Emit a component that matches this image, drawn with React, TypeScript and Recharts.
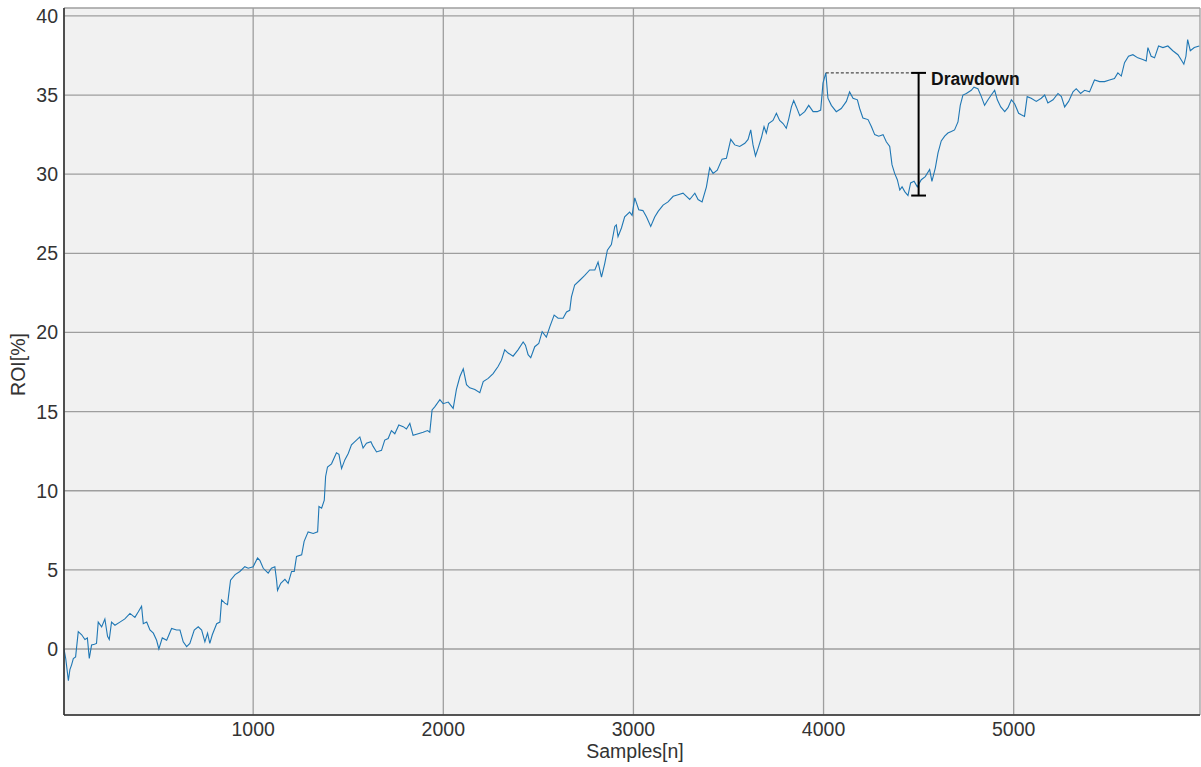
import React from "react";
import {
  CartesianGrid,
  Label,
  Line,
  LineChart,
  ReferenceDot,
  ReferenceLine,
  XAxis,
  YAxis,
} from "recharts";

// [sample, ROI %], one list per thousand samples
const RUN_0K: [number, number][] = [
  [5, 0.0], [14, -0.6], [22, -1.4], [28, -2.0], [36, -1.3], [45, -1.0], [54, -0.6],
  [66, -0.5], [80, 1.1], [98, 0.9], [115, 0.6], [128, 0.7], [138, -0.6], [150, 0.25],
  [165, 0.3], [176, 0.35], [185, 1.7], [203, 1.4], [220, 1.9], [234, 0.8], [243, 0.6],
  [255, 1.7], [273, 1.5], [299, 1.7], [325, 1.9], [352, 2.25], [378, 2.0], [396, 2.35],
  [413, 2.7], [422, 1.6], [440, 1.7], [457, 1.2], [475, 1.0], [492, 0.55], [504, 0.0],
  [522, 0.7], [545, 0.55], [571, 1.3], [597, 1.2], [615, 1.2], [632, 0.45], [650, 0.15],
  [667, 0.35], [690, 1.2], [711, 1.4], [729, 1.2], [746, 0.45], [760, 1.0], [772, 0.35],
  [785, 0.9], [808, 1.6], [825, 1.7], [834, 3.1], [851, 2.9], [865, 2.8], [872, 3.5],
  [881, 4.35], [905, 4.7], [930, 4.9], [956, 5.2], [974, 5.1],
];

const RUN_1K: [number, number][] = [
  [1000, 5.2], [1023, 5.75], [1035, 5.6], [1053, 5.1], [1079, 4.8], [1096, 5.1],
  [1114, 5.2], [1123, 4.35], [1128, 3.7], [1145, 4.15], [1167, 4.4], [1184, 4.15],
  [1202, 4.9], [1216, 4.9], [1228, 5.85], [1255, 5.95], [1268, 6.8], [1289, 7.4],
  [1316, 7.3], [1339, 7.4], [1346, 9.0], [1360, 8.9], [1374, 9.4], [1381, 10.9],
  [1391, 11.5], [1412, 11.7], [1438, 12.4], [1451, 12.3], [1465, 11.4], [1482, 11.95],
  [1500, 12.35], [1517, 12.9], [1535, 13.1], [1561, 13.4], [1578, 12.7], [1596, 13.0],
  [1619, 13.1], [1631, 12.8], [1649, 12.45], [1675, 12.55], [1692, 13.2], [1710, 13.3],
  [1727, 13.8], [1745, 13.6], [1766, 14.15], [1789, 14.05], [1806, 13.9], [1824, 14.25],
  [1841, 13.5], [1868, 13.6], [1894, 13.7], [1917, 13.8], [1929, 13.7], [1941, 15.1],
  [1955, 15.3], [1982, 15.75],
];

const RUN_2K: [number, number][] = [
  [1999, 15.5], [2026, 15.6], [2052, 15.2], [2069, 16.4], [2087, 17.2], [2105, 17.7],
  [2122, 16.7], [2139, 16.5], [2166, 16.4], [2192, 16.2], [2210, 16.9], [2236, 17.1],
  [2262, 17.4], [2288, 17.85], [2306, 18.25], [2323, 18.9], [2341, 18.7], [2367, 18.5],
  [2393, 18.9], [2420, 19.4], [2432, 19.2], [2446, 18.6], [2460, 18.4], [2481, 19.1],
  [2502, 19.3], [2520, 20.05], [2542, 19.7], [2560, 20.35], [2583, 21.1], [2604, 20.9],
  [2630, 20.9], [2648, 21.3], [2665, 21.4], [2674, 22.25], [2691, 23.0], [2718, 23.3],
  [2744, 23.6], [2770, 23.95], [2797, 23.95], [2814, 24.45], [2832, 23.5], [2849, 24.35],
  [2863, 25.2], [2884, 25.55], [2902, 26.7], [2910, 26.8], [2919, 26.05], [2937, 26.6],
  [2954, 27.3], [2980, 27.6], [2993, 27.4],
];

const RUN_3K: [number, number][] = [
  [3007, 28.5], [3028, 27.75], [3050, 27.7], [3069, 27.3], [3091, 26.7], [3112, 27.3],
  [3130, 27.65], [3156, 28.05], [3182, 28.25], [3209, 28.6], [3235, 28.7], [3261, 28.8],
  [3279, 28.6], [3296, 28.4], [3323, 28.8], [3340, 28.4], [3361, 28.25], [3384, 29.2],
  [3401, 30.4], [3419, 30.05], [3441, 30.25], [3466, 30.95], [3489, 31.0], [3512, 32.2],
  [3533, 31.85], [3559, 31.75], [3586, 31.95], [3603, 32.2], [3617, 32.8], [3629, 31.85],
  [3642, 31.15], [3656, 31.65], [3673, 32.3], [3687, 33.0], [3699, 32.6], [3711, 33.2],
  [3734, 33.4], [3752, 33.85], [3769, 33.4], [3787, 33.2], [3804, 32.9], [3817, 33.5],
  [3831, 34.25], [3843, 34.65], [3857, 34.25], [3875, 33.7], [3901, 33.95], [3922, 34.35],
  [3945, 33.95], [3967, 33.95], [3985, 34.05], [3997, 35.75],
];

const RUN_4K: [number, number][] = [
  [4012, 36.4], [4023, 34.8], [4041, 34.35], [4067, 33.95], [4093, 34.15], [4120, 34.6],
  [4137, 35.2], [4155, 34.8], [4178, 34.7], [4190, 34.15], [4207, 33.55], [4234, 33.45],
  [4252, 33.0], [4269, 32.5], [4290, 32.4], [4313, 32.5], [4330, 32.05], [4348, 31.75],
  [4360, 30.6], [4374, 30.05], [4388, 29.65], [4401, 29.0], [4413, 29.2], [4427, 28.9],
  [4444, 28.65], [4458, 29.45], [4476, 29.55], [4493, 29.2], [4514, 29.65], [4535, 29.85],
  [4558, 30.3], [4570, 29.55], [4588, 30.4], [4602, 31.35], [4619, 32.1], [4637, 32.4],
  [4654, 32.6], [4672, 32.7], [4689, 32.8], [4707, 33.3], [4719, 34.35], [4733, 35.0],
  [4751, 35.1], [4777, 35.3], [4791, 35.5], [4812, 35.4], [4830, 34.9], [4847, 34.35],
  [4865, 34.7], [4882, 35.0], [4900, 35.3], [4914, 34.7], [4932, 34.25], [4953, 33.95],
  [4970, 34.2], [4988, 34.7],
];

const RUN_5K: [number, number][] = [
  [5005, 34.45], [5026, 33.85], [5040, 33.75], [5057, 33.65], [5071, 34.9], [5092, 34.8],
  [5119, 34.6], [5145, 34.8], [5163, 35.0], [5180, 34.5], [5207, 34.7], [5233, 35.1],
  [5251, 34.9], [5268, 34.25], [5289, 34.6], [5312, 35.2], [5329, 35.4], [5352, 35.1],
  [5373, 35.3], [5399, 35.2], [5425, 35.95], [5452, 35.85], [5478, 35.85], [5504, 35.95],
  [5530, 36.05], [5548, 36.4], [5566, 36.2], [5583, 37.05], [5604, 37.45], [5627, 37.55],
  [5653, 37.35], [5679, 37.25], [5697, 37.15], [5706, 38.0], [5723, 37.45], [5741, 37.35],
  [5762, 38.1], [5785, 38.0], [5811, 38.1], [5837, 37.8], [5864, 37.55], [5885, 37.15],
  [5895, 36.95], [5906, 37.45], [5915, 38.5], [5929, 37.8], [5950, 38.0], [5976, 38.1],
];

const X_TICKS = [1000, 2000, 3000, 4000, 5000];
const Y_TICKS = [0, 5, 10, 15, 20, 25, 30, 35, 40];

// drawdown marker: searched inside this window, bar drawn at DD_X
const DD_WINDOW: [number, number] = [3900, 4700];
const DD_X = 4500;
const DD_CAP = 39;

const rows = [...RUN_0K, ...RUN_1K, ...RUN_2K, ...RUN_3K, ...RUN_4K, ...RUN_5K].map(
  ([sample, roi]) => ({ sample, roi })
);

const inWindow = rows.filter((r) => r.sample >= DD_WINDOW[0] && r.sample <= DD_WINDOW[1]);
const ddPeak = inWindow.reduce((a, b) => (b.roi > a.roi ? b : a));
const ddTrough = inWindow.reduce((a, b) => (b.roi < a.roi ? b : a));

const FONT = '"Liberation Sans", Arial, sans-serif';
const TEXT = "#333";
const SPINE = "#333";

function YTitle({ viewBox }: any) {
  const cx = viewBox.x + 25;
  const cy = viewBox.y + viewBox.height / 2 + 3;
  return (
    <text
      x={cx}
      y={cy}
      transform={`rotate(-90, ${cx}, ${cy})`}
      textAnchor="middle"
      fontSize={19.5}
      fill={TEXT}
      fontFamily={FONT}
    >
      ROI[%]
    </text>
  );
}

function XTitle({ viewBox }: any) {
  return (
    <text
      x={viewBox.x + viewBox.width / 2 + 3}
      y={viewBox.y + 43}
      textAnchor="middle"
      fontSize={19.5}
      fill={TEXT}
      fontFamily={FONT}
    >
      Samples[n]
    </text>
  );
}

function DrawdownText(props: any) {
  return (
    <text
      x={props.cx + 12.5}
      y={props.cy + 12}
      fontSize={17.5}
      fontWeight="bold"
      fill="#111"
      fontFamily={FONT}
    >
      Drawdown
    </text>
  );
}

export default function App() {
  return (
    <div style={{ position: "absolute", left: 0, top: 0, background: "#fff" }}>
      <LineChart
        width={1201}
        height={767}
        data={rows}
        margin={{ top: 8, right: 1, bottom: 0, left: 0 }}
        style={{ fontFamily: FONT }}
      >
        <CartesianGrid fill="#f1f1f1" stroke="#9e9e9e" strokeWidth={1.3} />
        <XAxis
          dataKey="sample"
          type="number"
          domain={[5, 5980]}
          ticks={X_TICKS}
          allowDataOverflow
          height={52}
          tickLine={false}
          tickSize={6}
          tickMargin={1}
          axisLine={{ stroke: SPINE, strokeWidth: 1.6 }}
          tick={{ fill: TEXT, fontSize: 19.5 }}
        >
          <Label content={XTitle} />
        </XAxis>
        <XAxis
          xAxisId="top"
          orientation="top"
          dataKey="sample"
          type="number"
          domain={[5, 5980]}
          height={0}
          tick={false}
          tickLine={false}
          axisLine={{ stroke: SPINE, strokeWidth: 1.6 }}
        />
        <YAxis
          domain={[-4.17, 40.5]}
          ticks={Y_TICKS}
          allowDataOverflow
          width={64}
          tickLine={false}
          tickSize={6}
          tickMargin={0}
          axisLine={{ stroke: SPINE, strokeWidth: 1.6 }}
          tick={{ fill: TEXT, fontSize: 19.5 }}
        >
          <Label content={YTitle} />
        </YAxis>
        <YAxis
          yAxisId="right"
          orientation="right"
          domain={[-4.17, 40.5]}
          width={0}
          tick={false}
          tickLine={false}
          axisLine={{ stroke: SPINE, strokeWidth: 1.6 }}
        />
        <Line
          type="linear"
          dataKey="roi"
          stroke="#1f77b4"
          strokeWidth={1.1}
          dot={false}
          isAnimationActive={false}
        />
        {/* peak level carried over to the marker */}
        <ReferenceLine
          segment={[
            { x: ddPeak.sample, y: ddPeak.roi },
            { x: DD_X, y: ddPeak.roi },
          ]}
          stroke="#222"
          strokeWidth={1}
          strokeDasharray="3 2"
        />
        <ReferenceLine
          segment={[
            { x: DD_X, y: ddPeak.roi },
            { x: DD_X, y: ddTrough.roi },
          ]}
          stroke="#000"
          strokeWidth={2}
        />
        <ReferenceLine
          segment={[
            { x: DD_X - DD_CAP, y: ddPeak.roi },
            { x: DD_X + DD_CAP, y: ddPeak.roi },
          ]}
          stroke="#000"
          strokeWidth={2}
        />
        <ReferenceLine
          segment={[
            { x: DD_X - DD_CAP, y: ddTrough.roi },
            { x: DD_X + DD_CAP, y: ddTrough.roi },
          ]}
          stroke="#000"
          strokeWidth={2}
        />
        <ReferenceDot x={DD_X} y={ddPeak.roi} r={0} shape={DrawdownText} />
      </LineChart>
    </div>
  );
}
